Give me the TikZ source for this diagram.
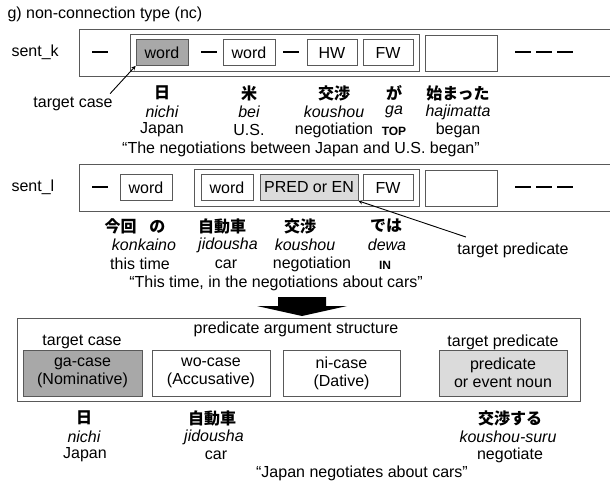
\documentclass[tikz,border=0pt]{standalone}
\usepackage{fontspec}
\setmainfont{Liberation Sans}
\newfontfamily\jp{Noto Sans CJK JP}
\usetikzlibrary{arrows.meta}
\definecolor{casegray}{gray}{0.66}
\definecolor{predgray}{gray}{0.86}
\definecolor{linegray}{gray}{0.35}
\begin{document}
\begin{tikzpicture}[x=1pt,y=-1pt,>=stealth,
  every node/.style={font=\fontsize{16}{18}\selectfont},
  frame/.style={draw=linegray,line width=0.8pt},
  wbox/.style={draw=linegray,line width=0.8pt,minimum height=26pt,inner sep=0pt},
  bar/.style={fill=black,minimum width=16pt,minimum height=2.6pt,inner sep=0pt},
  jword/.style={font=\jp\bfseries\fontsize{16}{18}\selectfont},
  rom/.style={font=\fontsize{16}{18}\selectfont\itshape},
  tag/.style={font=\fontsize{12}{14}\selectfont\bfseries},
  pas/.style={wbox,minimum height=46pt,align=center,font=\fontsize{16}{18}\selectfont}]
\useasboundingbox (0,0) rectangle (610,487);

\node[anchor=west] (title) at (4,14) {g) non-connection type (nc)};

\node[anchor=west] (sentk) at (8,52) {sent\_k};
\draw[frame] (79,29) rectangle (615,76);
\draw[frame] (130,34) rectangle (419,71);
\node[bar] (bk1) at (100,52) {};
\node[wbox,fill=casegray,minimum width=52pt] (wk1) at (162,52.5) {word};
\node[bar] (bk2) at (209,52) {};
\node[wbox,minimum width=52pt] (wk2) at (249,52.5) {word};
\node[bar] (bk3) at (291,52) {};
\node[wbox,minimum width=50pt] (hwk) at (332,52.5) {HW};
\node[wbox,minimum width=50pt] (fwk) at (388,52.5) {FW};
\node[wbox,minimum width=72pt,minimum height=36pt] (ek) at (461,53) {};
\node[bar] (bk4) at (523,52) {};
\node[bar] (bk5) at (544,52) {};
\node[bar] (bk6) at (565,52) {};

\node[jword] (jk1) at (162,93) {日};
\node[jword] (jk2) at (249,93) {米};
\node[jword] (jk3) at (334,93) {交渉};
\node[jword] (jk4) at (394,93) {が};
\node[jword] (jk5) at (458,93) {始まった};
\node[rom] (rk1) at (162,112) {nichi};
\node[rom] (rk2) at (249,112) {bei};
\node[rom] (rk3) at (334,112) {koushou};
\node[rom] (rk4) at (394,112) {ga};
\node[rom] (rk5) at (458,112) {hajimatta};
\node (gk1) at (162,130) {Japan};
\node (gk2) at (249,130) {U.S.};
\node (gk3) at (334,130) {negotiation};
\node[tag] (gk4) at (394,131) {TOP};
\node (gk5) at (458,130) {began};
\node (qk) at (301,149) {``The negotiations between Japan and U.S. began''};

\node (tcase) at (73,104) {target case};
\draw[->,line width=0.9pt] (tcase.north east) ++(-6,0) -- (wk1.south west);

\node[anchor=west] (sentl) at (8,187) {sent\_l};
\draw[frame] (79,164) rectangle (615,211);
\draw[frame] (194,169) rectangle (419,206);
\node[bar] (bl1) at (100,187) {};
\node[wbox,minimum width=52pt] (wl1) at (146,187.5) {word};
\node[wbox,minimum width=52pt] (wl2) at (227,187.5) {word};
\node[wbox,fill=predgray,minimum width=98pt] (pl) at (309,187.5) {PRED or EN};
\node[wbox,minimum width=50pt] (fwl) at (388,187.5) {FW};
\node[wbox,minimum width=72pt,minimum height=36pt] (el) at (461,188) {};
\node[bar] (bl4) at (523,187) {};
\node[bar] (bl5) at (544,187) {};
\node[bar] (bl6) at (565,187) {};

\node[jword] (jl1) at (135,226) {今回\hspace{0.8em}の};
\node[jword] (jl2) at (222,226) {自動車};
\node[jword] (jl3) at (300,226) {交渉};
\node[jword] (jl4) at (386,226) {では};
\node[rom] (rl1) at (144,245) {konkaino};
\node[rom] (rl2) at (228,245) {jidousha};
\node[rom] (rl3) at (305,245) {koushou};
\node[rom] (rl4) at (387,245) {dewa};
\node (gl1) at (140,264) {this time};
\node (gl2) at (226,264) {car};
\node (gl3) at (312,264) {negotiation};
\node[tag] (gl4) at (385,265) {IN};
\node (ql) at (276,283) {``This time, in the negotiations about cars''};

\node (tpred) at (513,250) {target predicate};
\draw[->,line width=0.9pt] (tpred.north west) ++(12,-2) -- (pl.south east);

\fill (278,297) -- (326,297) -- (326,306) -- (347,306) -- (302,316) -- (257,306) -- (278,306) -- cycle;

\draw[frame] (17,318) rectangle (580,401);
\node (pastitle) at (296,329) {predicate argument structure};
\node (pcase) at (82,342) {target case};
\node (ppred) at (503,342) {target predicate};
\node[pas,fill=casegray,minimum width=119pt] (ga) at (82.5,373) {ga-case\\(Nominative)};
\node[pas,minimum width=118pt] (wo) at (211,373) {wo-case\\(Accusative)};
\node[pas,minimum width=117pt] (ni) at (341.5,373) {ni-case\\(Dative)};
\node[pas,fill=predgray,minimum width=128pt] (pr) at (503,373) {predicate\\or event noun};

\node[jword] (jp1) at (84,418) {日};
\node[jword] (jp2) at (212,418) {自動車};
\node[jword] (jp3) at (510,418) {交渉する};
\node[rom] (rp1) at (84,437) {nichi};
\node[rom] (rp2) at (214,437) {jidousha};
\node[rom] (rp3) at (508,437) {koushou-suru};
\node (gp1) at (85,455) {Japan};
\node (gp2) at (216,455) {car};
\node (gp3) at (510,455) {negotiate};
\node (qp) at (362,473) {``Japan negotiates about cars''};
\end{tikzpicture}
\end{document}
